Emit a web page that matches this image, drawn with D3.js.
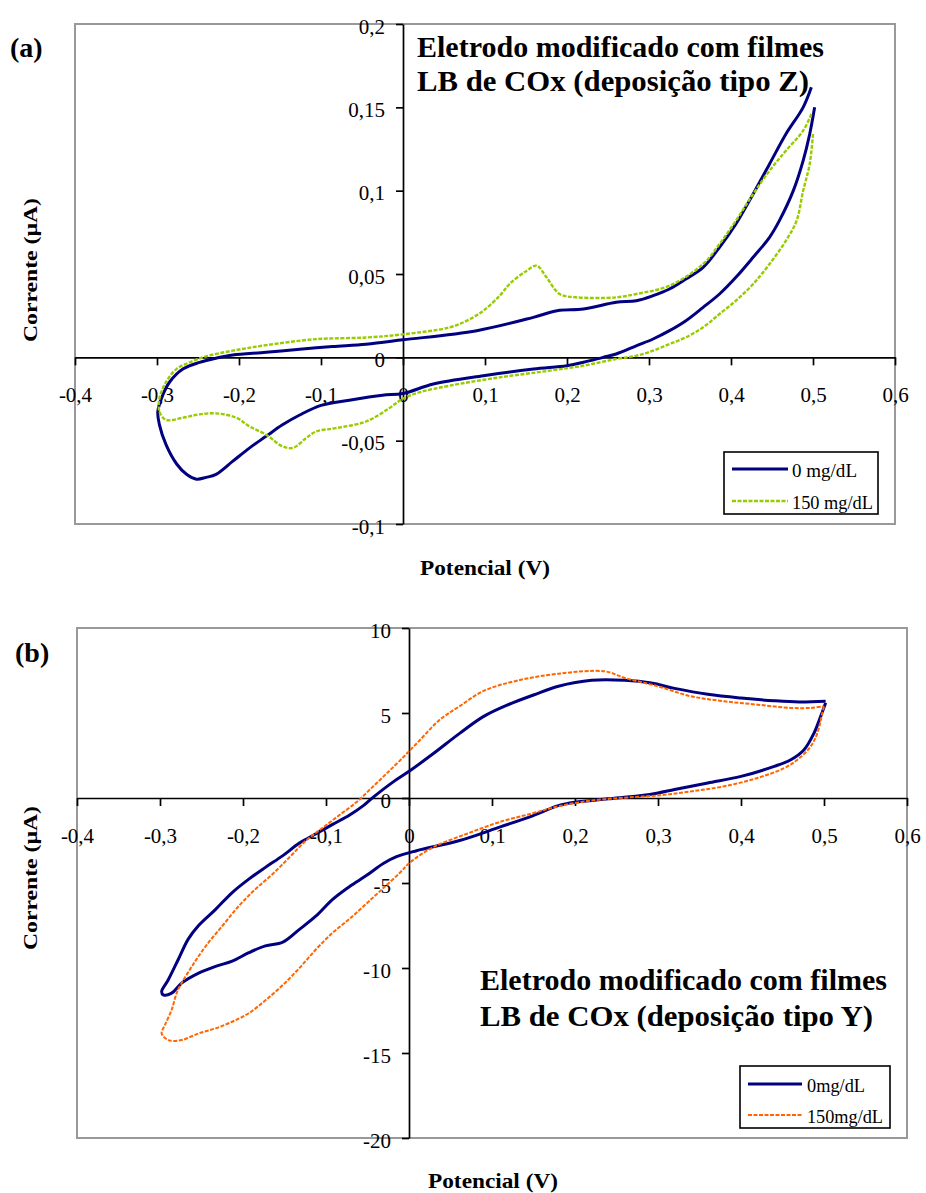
<!DOCTYPE html>
<html><head><meta charset="utf-8">
<script src="https://cdn.jsdelivr.net/npm/d3@7"></script>
<style>
body{margin:0;background:#fff}
svg{display:block}
text{font-family:"Liberation Serif","Times New Roman",serif;fill:#000}
</style>
</head><body>
<svg id="chart" width="926" height="1193"></svg>
<script>
// ---------- DATA ----------
const xTicks = [-0.4, -0.3, -0.2, -0.1, 0, 0.1, 0.2, 0.3, 0.4, 0.5, 0.6];
const yTicksA = [-0.1, -0.05, 0, 0.05, 0.1, 0.15, 0.2];
const yTicksB = [-20, -15, -10, -5, 0, 5, 10];
const legendA = ["0 mg/dL", "150 mg/dL"];
const legendB = ["0mg/dL", "150mg/dL"];
const titleA = ["Eletrodo modificado com filmes", "LB de COx (deposição tipo Z)"];
const titleB = ["Eletrodo modificado com filmes", "LB de COx (deposição tipo Y)"];

// Panel (a): 0 mg/dL  [potential V, current µA]
const a0mg = [
 [0.502,0.150],[0.496,0.134],[0.488,0.118],[0.476,0.100],[0.459,0.082],[0.447,0.072],[0.427,0.060],
 [0.406,0.048],[0.386,0.038],[0.366,0.030],[0.345,0.022],[0.325,0.016],[0.305,0.011],[0.285,0.007],
 [0.260,0.002],[0.244,0.0],[0.220,-0.003],[0.200,-0.005],[0.159,-0.007],[0.098,-0.011],[0.037,-0.016],
 [0.0,-0.0217],[-0.025,-0.0227],[-0.0655,-0.0257],[-0.100,-0.0288],[-0.126,-0.0346],[-0.147,-0.0405],
 [-0.167,-0.0474],[-0.187,-0.0543],[-0.2075,-0.0623],[-0.228,-0.0702],[-0.240,-0.072],[-0.252,-0.0731],
 [-0.264,-0.0702],[-0.276,-0.064],[-0.289,-0.0524],[-0.297,-0.0405],[-0.299,-0.0326],
 [-0.293,-0.0227],[-0.2846,-0.0148],[-0.268,-0.0069],[-0.248,-0.003],[-0.228,-0.0005],[-0.2075,0.0014],
 [-0.167,0.003],[-0.126,0.0049],[-0.086,0.0065],[-0.045,0.0079],[0.0,0.0105],[0.090,0.016],
 [0.159,0.024],[0.188,0.028],[0.220,0.029],[0.260,0.033],[0.2846,0.034],[0.305,0.037],[0.325,0.041],
 [0.345,0.047],[0.366,0.054],[0.386,0.066],[0.406,0.080],[0.427,0.098],[0.447,0.116],[0.467,0.134],
 [0.488,0.150],[0.498,0.162]
];
// Panel (a): 150 mg/dL
const a150mg = [
 [0.500,0.134],[0.496,0.116],[0.488,0.100],[0.480,0.082],[0.467,0.070],[0.447,0.056],[0.427,0.044],
 [0.406,0.034],[0.386,0.026],[0.366,0.018],[0.345,0.012],[0.325,0.008],[0.305,0.004],[0.285,0.001],
 [0.260,-0.001],[0.220,-0.005],[0.179,-0.008],[0.118,-0.012],[0.057,-0.017],[0.020,-0.021],
 [0.0,-0.0247],[-0.017,-0.0306],[-0.045,-0.0385],[-0.082,-0.0425],[-0.106,-0.0445],[-0.118,-0.0484],
 [-0.134,-0.0543],[-0.147,-0.0534],[-0.167,-0.0464],[-0.187,-0.0415],[-0.2035,-0.0362],[-0.228,-0.0336],
 [-0.248,-0.0342],[-0.268,-0.0362],[-0.289,-0.0375],[-0.297,-0.0326],
 [-0.297,-0.0247],[-0.289,-0.0148],[-0.276,-0.0069],[-0.260,-0.003],[-0.240,0.0006],[-0.2075,0.004],
 [-0.167,0.0073],[-0.106,0.0109],[-0.045,0.0119],[0.0,0.0138],[0.057,0.018],[0.078,0.022],
 [0.098,0.028],[0.118,0.037],[0.130,0.044],[0.151,0.052],[0.163,0.055],[0.175,0.048],[0.191,0.038],
 [0.212,0.036],[0.260,0.036],[0.2846,0.038],[0.325,0.043],[0.366,0.056],[0.386,0.068],[0.406,0.082],
 [0.427,0.098],[0.447,0.112],[0.467,0.124],[0.488,0.136],[0.498,0.146]
];
// Panel (b): 0 mg/dL
const b0mg = [
 [0.502,5.6],[0.496,4.8],[0.488,3.82],[0.476,2.84],[0.460,2.25],[0.440,1.86],[0.400,1.27],[0.360,0.88],
 [0.320,0.5],[0.300,0.3],[0.280,0.15],[0.240,-0.05],[0.200,-0.25],[0.180,-0.45],[0.149,-1.05],[0.110,-1.7],
 [0.061,-2.5],[0.009,-3.1],[-0.015,-3.45],[-0.031,-3.85],[-0.051,-4.55],[-0.0715,-5.2],[-0.092,-5.96],
 [-0.112,-6.94],[-0.132,-7.73],[-0.152,-8.48],[-0.173,-8.7],[-0.193,-9.1],[-0.213,-9.6],[-0.233,-9.9],
 [-0.2535,-10.3],[-0.274,-10.89],[-0.286,-11.48],[-0.296,-11.58],[-0.298,-11.38],
 [-0.290,-10.69],[-0.278,-9.5],[-0.266,-8.3],[-0.2535,-7.5],[-0.233,-6.55],[-0.213,-5.56],
 [-0.193,-4.77],[-0.173,-4.08],[-0.152,-3.39],[-0.132,-2.65],[-0.112,-2.1],[-0.092,-1.55],
 [-0.0715,-1.0],[-0.055,-0.45],[-0.043,0.05],[-0.019,0.95],[0.001,1.6],[0.029,2.6],[0.061,3.8],
 [0.090,4.8],[0.120,5.5],[0.150,6.06],[0.180,6.57],[0.220,6.92],[0.260,6.92],[0.292,6.76],[0.320,6.45],
 [0.360,6.1],[0.400,5.88],[0.440,5.72],[0.470,5.65],[0.502,5.69]
];
// Panel (b): 150 mg/dL
const b150mg = [
 [0.500,5.39],[0.498,5.0],[0.492,3.82],[0.484,3.04],[0.468,2.25],[0.452,1.76],[0.420,1.18],[0.380,0.69],
 [0.340,0.39],[0.300,0.15],[0.260,0.02],[0.220,-0.15],[0.180,-0.49],[0.149,-0.9],[0.110,-1.4],[0.070,-2.1],
 [0.029,-2.9],[0.001,-3.8],[-0.011,-4.4],[-0.031,-5.3],[-0.051,-6.2],[-0.0715,-7.1],[-0.092,-7.93],
 [-0.112,-8.9],[-0.132,-10.0],[-0.152,-11.0],[-0.173,-11.9],[-0.193,-12.66],[-0.213,-13.16],
 [-0.233,-13.55],[-0.2535,-13.85],[-0.274,-14.24],[-0.290,-14.24],[-0.298,-13.85],
 [-0.294,-13.35],[-0.286,-12.47],[-0.280,-11.48],[-0.274,-10.89],[-0.2615,-9.9],[-0.245,-8.72],
 [-0.225,-7.53],[-0.205,-6.35],[-0.185,-5.36],[-0.1645,-4.48],[-0.144,-3.49],[-0.124,-2.5],
 [-0.104,-1.75],[-0.0837,-1.0],[-0.0634,-0.25],[-0.047,0.5],[-0.030,1.3],[-0.011,2.2],[0.013,3.4],
 [0.037,4.6],[0.061,5.4],[0.090,6.3],[0.130,6.9],[0.180,7.31],[0.236,7.45],[0.260,7.06],[0.300,6.57],
 [0.340,5.98],[0.380,5.69],[0.420,5.49],[0.460,5.3],[0.484,5.3],[0.500,5.39]
];

// ---------- DRAWING ----------
const SERIF = '"Liberation Serif","Times New Roman",serif';
const loc = d3.formatLocale({decimal: ",", thousands: ".", grouping: [3], currency: ["", ""], minus: "-"});
const fmt = loc.format("~g");
const svg = d3.select("#chart");

function panel(cfg) {
  const g = svg.append("g");
  const x = d3.scaleLinear().domain([-0.4, 0.6]).range([cfg.left, cfg.right]);
  const y = d3.scaleLinear().domain(cfg.yDom).range([cfg.bottom, cfg.top]);

  // frame
  g.append("rect").attr("x", cfg.left).attr("y", cfg.top)
    .attr("width", cfg.right - cfg.left).attr("height", cfg.bottom - cfg.top)
    .attr("fill", "#fff").attr("stroke", "#999").attr("stroke-width", 2);

  // x axis at y = 0
  const gx = g.append("g").attr("transform", `translate(0,${y(0)})`)
    .call(d3.axisBottom(x).tickValues(xTicks).tickFormat(fmt).tickSize(8).tickSizeOuter(0));
  gx.attr("font-family", SERIF);
  gx.selectAll("text").attr("y", 45).attr("dy", null).attr("font-size", 21).attr("font-family", SERIF);
  // y axis at x = 0
  const gy = g.append("g").attr("transform", `translate(${x(0)},0)`)
    .call(d3.axisLeft(y).tickValues(cfg.yTicks).tickFormat(fmt).tickSize(7).tickSizeOuter(0));
  gy.attr("font-family", SERIF);
  gy.selectAll("text").attr("x", -18).attr("dy", 9).attr("font-size", 21).attr("font-family", SERIF);
  g.selectAll(".domain, .tick line").attr("stroke", "#000").attr("stroke-width", 1.7);

  // series
  const line = d3.line().x(d => x(d[0])).y(d => y(d[1])).curve(d3.curveCatmullRom.alpha(0.5));
  cfg.series.forEach(s => {
    g.append("path").datum(s.data).attr("d", line).attr("fill", "none")
      .attr("stroke", s.color).attr("stroke-width", s.width)
      .attr("stroke-dasharray", s.dash || null).attr("stroke-linejoin", "round");
  });

  // title
  cfg.title.forEach((t, i) => {
    g.append("text").attr("x", cfg.titleX).attr("y", cfg.titleY[i]).text(t)
      .attr("font-family", SERIF).attr("font-size", 30).attr("font-weight", "bold")
      .attr("textLength", cfg.titleW[i]).attr("lengthAdjust", "spacingAndGlyphs");
  });

  // panel label
  g.append("text").attr("x", cfg.labelX).attr("y", cfg.labelY).text(cfg.label)
    .attr("font-family", SERIF).attr("font-size", 28).attr("font-weight", "bold");

  // axis titles
  g.append("text").attr("x", cfg.xtX).attr("y", cfg.xtY).text("Potencial (V)")
    .attr("font-family", SERIF).attr("font-size", 22).attr("font-weight", "bold")
    .attr("textLength", 130).attr("lengthAdjust", "spacingAndGlyphs");
  g.append("text").attr("transform", `translate(37,${cfg.ytY}) rotate(-90)`)
    .attr("text-anchor", "middle").text("Corrente (µA)")
    .attr("font-family", SERIF).attr("font-size", 19).attr("font-weight", "bold")
    .attr("textLength", 144).attr("lengthAdjust", "spacingAndGlyphs");

  // legend
  const L = cfg.legend;
  g.append("rect").attr("x", L.x).attr("y", L.y).attr("width", L.w).attr("height", L.h)
    .attr("fill", "#fff").attr("stroke", "#000").attr("stroke-width", 1.6);
  cfg.series.forEach((s, i) => {
    const ry = L.rows[i];
    g.append("line").attr("x1", L.lx1).attr("x2", L.lx2).attr("y1", ry).attr("y2", ry)
      .attr("stroke", s.color).attr("stroke-width", s.width).attr("stroke-dasharray", s.dash || null);
    g.append("text").attr("x", L.tx).attr("y", ry + 8).text(cfg.names[i])
      .attr("font-family", SERIF).attr("font-size", 18)
      .attr("textLength", L.tw[i]).attr("lengthAdjust", "spacingAndGlyphs");
  });
}

panel({
  left: 75, right: 895, top: 24, bottom: 524, yDom: [-0.1, 0.2], yTicks: yTicksA,
  series: [
    {data: a0mg, color: "#000080", width: 3},
    {data: a150mg, color: "#99cc00", width: 2.4, dash: "4,1.5"}
  ],
  names: legendA,
  title: titleA, titleX: 417, titleY: [57, 91], titleW: [407, 392],
  label: "(a)", labelX: 10, labelY: 57,
  xtX: 420, xtY: 575, ytY: 270,
  legend: {x: 724, y: 452, w: 154, h: 62, lx1: 732, lx2: 788, rows: [469, 501], tx: 792, tw: [65, 81]}
});

panel({
  left: 77, right: 907, top: 628, bottom: 1138, yDom: [-20, 10], yTicks: yTicksB,
  series: [
    {data: b0mg, color: "#000080", width: 3},
    {data: b150mg, color: "#ff6600", width: 2, dash: "4,1.5"}
  ],
  names: legendB,
  title: titleB, titleX: 480, titleY: [990, 1026], titleW: [407, 393],
  label: "(b)", labelX: 15, labelY: 662,
  xtX: 428, xtY: 1188, ytY: 878,
  legend: {x: 740, y: 1066, w: 150, h: 62, lx1: 748, lx2: 802, rows: [1084, 1115], tx: 807, tw: [58, 76]}
});
</script>
</body></html>
